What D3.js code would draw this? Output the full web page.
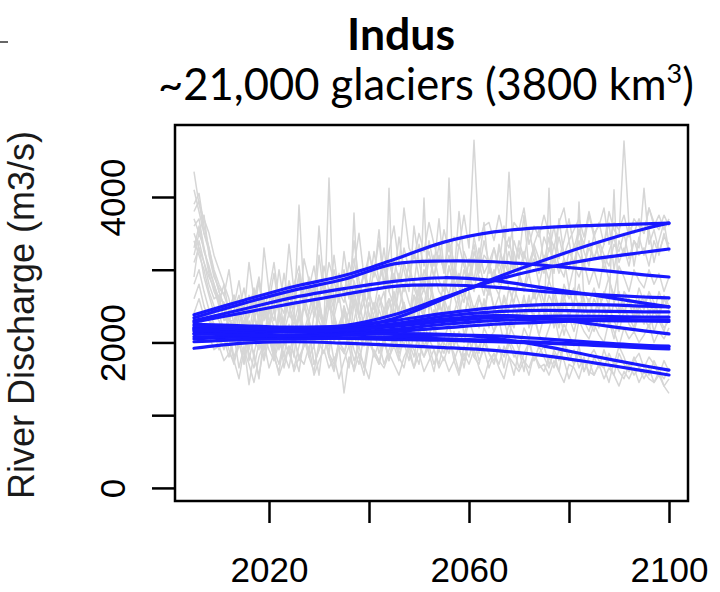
<!DOCTYPE html>
<html><head><meta charset="utf-8">
<script src="https://cdn.jsdelivr.net/npm/d3@7"></script>
<style>body{margin:0;background:#fff} svg{display:block}</style>
</head><body>
<svg id="chart" width="720" height="592"></svg>
<script>
const chartTitle = "Indus";
const subtitleMain = "~21,000 glaciers (3800 km";
const subtitleSup = "3";
const subtitleEnd = ")";
const yAxisTitle = "River Discharge (m3/s)";

const firstYear = 2005, lastYear = 2100;
const annualYears = d3.range(firstYear, lastYear + 1);

// Individual model runs (grey), annual values 2005-2100, m3/s
const grayRuns = [
[4350,3900,3700,3500,3200,3000,2800,2600,2250,2500,
 2150,2650,2400,2850,2300,2550,2950,2450,2700,2350,
 2800,3050,2550,2900,2450,3200,2650,3100,2850,2550,
 3250,2750,3050,3500,2900,3200,2950,3400,2800,3250,
 3600,3050,3850,3300,3150,3500,3250,3650,3350,3100,
 3550,3250,3450,3300,3750,3300,4780,3400,3600,3650,
 3400,3750,3450,3300,3650,3550,3850,3350,3600,3450,
 3750,3500,3300,3650,3850,3400,3550,3700,3450,3800,
 3500,3600,3850,3350,3650,3550,3750,3450,3700,3600,
 3500,3850,3650,3550,3750,3600],
[3900,4050,3600,3300,2950,2700,2500,2300,2250,2000,
 1750,2300,2050,1900,2450,2150,1850,2350,2000,2200,
 1800,2450,2100,2300,1950,2600,2200,1850,2400,2100,
 2250,1950,2550,2150,2350,2700,2050,2450,2250,2600,
 2350,2800,2500,2300,2850,2550,2750,2450,2950,2700,
 2600,3050,2750,2950,2650,3150,2850,3300,2950,3100,
 2850,3350,3000,3250,2950,3400,3150,3550,3200,3050,
 3450,3250,3600,3150,3400,3700,3300,3550,3350,3750,
 3450,3650,3350,3800,3550,3450,4770,3600,3500,3700,
 3500,3850,3600,3750,3550,3700],
[3700,3500,3750,3200,2900,2750,2650,2450,2650,2300,
 2000,2450,2750,2300,2550,2150,2700,2400,2250,2800,
 2450,2950,2500,2750,2350,2600,3050,2700,2450,2900,
 2650,3100,2800,2550,3000,2750,3250,2850,3050,2700,
 3150,2850,3300,3000,2800,3350,3050,3250,2900,3200,
 3000,3400,3100,2800,3250,3050,3350,2950,3200,3100,
 2850,3300,3050,4340,3100,2900,3250,3000,3150,2800,
 3100,2850,3200,2950,3150,2750,3050,2900,3100,2800,
 3000,2750,3150,2850,2650,3050,2900,2700,3000,2850,
 2750,3000,2800,2950,2700,2900],
[3300,3600,3250,3050,2800,2600,2550,2300,2450,2650,
 2350,2100,2550,2850,2400,2250,2700,2450,2950,2500,
 2300,3890,2650,2400,2800,2500,2250,2750,2550,2950,
 2650,2400,2850,2600,2950,2700,2450,2850,3050,2700,
 2500,2950,2700,3100,2750,2550,3000,2800,3200,2850,
 2700,3050,2800,2600,3000,2750,3150,2900,2650,3050,
 2800,2650,3000,2750,2550,2900,2700,2950,2600,2800,
 2550,2850,2650,2400,2800,2600,2750,2450,2700,2550,
 2750,2500,2650,2900,2550,2400,2700,2600,2450,2750,
 2550,2650,2400,2700,2500,2600],
[2900,3400,3100,2800,2600,2650,2300,2350,2150,2500,
 2250,1950,2400,2150,2600,2300,2000,2450,2200,2700,
 2350,2050,2500,2250,1950,2400,2200,2650,2300,2100,
 2500,2250,2700,2400,2150,2550,2350,2050,2450,2600,
 2300,2750,2450,2200,2650,2500,2350,2800,2550,2250,
 2600,2400,2850,2500,2300,2700,2450,2650,2350,2800,
 2450,2650,2350,2750,2500,2300,2600,2450,2700,2400,
 2550,2300,2750,2450,2650,2350,2550,2800,2400,2600,
 2350,2650,2450,2250,2550,2700,2400,2600,2300,2500,
 2650,2400,2550,2350,2600,2450],
[4100,3800,3500,3250,2950,2700,2500,2200,2150,1950,
 2300,1750,2100,2350,1900,2200,2450,2050,1800,2250,
 2000,2350,2100,1850,2400,2600,2150,1950,2300,2050,
 2400,2150,3780,2350,2050,2250,2550,2200,1950,4120,
 2200,2450,2150,2350,2650,2300,3985,2400,2150,2550,
 2300,2500,2200,2450,2350,2650,2250,2400,2550,2200,
 2450,2300,2600,2350,2200,2500,2350,2650,2250,2400,
 2300,4120,2450,2200,2550,2350,2150,2450,2600,2300,
 2150,2400,2250,2500,2300,2150,2450,2350,2200,2500,
 2350,2200,2450,2300,2150,2400],
[2600,2800,2500,2300,2250,2000,2050,1800,2100,1650,
 1950,1420,1850,2150,1750,2050,1800,1600,2000,1850,
 2100,1750,1950,2200,1700,1900,2150,1800,1650,2050,
 1850,2150,1900,1700,2100,1950,2200,1850,2050,1750,
 2150,1900,2250,2000,1800,2200,1950,2100,2300,1900,
 2050,2250,1950,2150,2000,2300,2100,1850,2200,2050,
 2150,2300,2000,2250,2100,1900,2200,2050,2350,2100,
 2000,2200,2400,2050,2250,2100,1950,2300,2150,2050,
 2250,2100,2000,2300,2150,1950,2200,2050,2150,2000,
 2100,2250,2000,2150,2050,2200],
[3100,3300,2900,2650,2400,2300,2100,2050,1750,1950,
 2150,1850,1650,2000,1800,2200,1900,1700,2050,1850,
 1650,1950,2200,1800,1600,2000,1850,2150,1750,1950,
 1305,1800,1650,2100,1950,2150,1800,2000,1700,1900,
 2100,1850,2000,1750,2150,1950,1800,2050,1900,1700,
 2000,1850,2150,1900,1750,2050,1800,1950,2100,1850,
 1700,1950,1800,2050,1900,1650,1850,2000,1750,1950,
 1800,1650,1900,1750,2000,1850,1700,1950,1600,1800,
 1900,1750,1650,1850,1700,1950,1800,1600,1750,1850,
 1650,1800,1700,1550,1750,1600],
[2400,2600,2350,2300,2150,1900,2150,1900,1700,2050,
 1850,2100,1800,1550,1950,2150,1750,2000,1850,1650,
 2050,1800,1950,2200,1700,1900,2100,1800,1600,1950,
 1850,2050,1750,1950,1650,2100,1850,1700,2000,1800,
 1950,1750,2150,1850,1650,2000,1800,1950,1700,1900,
 1750,2000,1850,1600,1950,1800,2050,1750,1900,1650,
 1850,1700,1950,1800,1550,1900,1750,1650,1850,1700,
 1600,1800,1650,1900,1750,1500,1700,1850,1600,1750,
 1550,1700,1650,1450,1750,1600,1500,1700,1550,1650,
 1500,1650,1450,1600,1400,1300],
[2200,2400,2100,2100,1900,1950,1750,1850,1750,1500,
 1900,1700,1450,1800,2000,1650,1850,1550,1750,1950,
 1600,1800,1700,1950,1550,1750,1900,1650,1800,1500,
 1750,1950,1600,1850,1700,1500,1900,1750,1650,1850,
 1700,1550,1800,1950,1650,1850,1600,1750,1900,1650,
 1800,1600,1750,1550,1850,1700,1900,1650,1500,1750,
 1850,1650,1500,1800,1700,1600,1750,1550,1850,1650,
 1700,1550,1750,1600,1450,1700,1650,1500,1750,1600,
 1550,1700,1500,1650,1550,1400,1600,1500,1650,1450,
 1600,1500,1450,1550,1400,1500],
[3500,3300,3100,2900,2750,2500,2450,2300,2300,2550,
 2100,2400,2650,2250,2050,2500,2300,2700,2150,2400,
 2250,2550,2150,2400,2800,2300,2100,2500,2350,2650,
 2200,2450,2700,2350,2550,2150,2400,2650,2300,2500,
 2700,2350,2550,2250,2450,2800,2400,2600,2300,2550,
 2350,4260,2650,2400,2700,2500,2300,2600,2450,2750,
 2500,2300,2650,2450,2750,2550,2350,2600,2450,2700,
 2400,2650,2500,2300,2600,2750,2450,3930,2550,2350,
 2600,2450,2700,2500,4100,2400,2650,2550,2350,2600,
 2450,2700,2550,2400,2650,2500],
[3600,3700,3300,3000,2800,2550,2350,2250,2000,2400,
 2150,1900,2350,2100,2500,2200,1950,2400,2150,2050,
 2400,2150,2550,2300,2050,2450,2250,4260,2350,2150,
 2500,2250,2600,2350,2700,2400,2200,2650,2450,2300,
 2650,2450,2800,2550,2350,2750,2500,2900,2600,2450,
 2850,2650,3000,2750,2550,2950,2700,3100,2800,2650,
 3000,2800,3150,2900,3250,2950,2750,3100,3300,2950,
 3200,3000,3350,3050,2900,3250,3100,3400,3050,3300,
 3150,3400,3200,3050,3350,3250,3500,3150,3400,3300,
 4120,3350,3550,3250,3450,3350],
[3800,3950,3500,3300,3000,2800,2650,3000,2500,2850,
 2400,3100,2600,2300,3300,2700,2450,3000,2550,3350,
 2700,2400,3150,2850,2500,3600,2750,2450,3200,2650,
 3000,2600,3400,2850,2550,3250,2900,3550,2750,3100,
 2850,3450,3000,2700,3600,3100,2800,3400,3050,3700,
 3000,3350,2900,3800,3150,2850,3450,3100,3650,2950,
 3300,3050,3600,2900,3400,3150,3750,3000,3350,3550,
 3100,3450,2950,3700,3200,3400,3000,3550,3250,3050,
 3500,3150,3350,3650,3000,3400,3200,3600,3050,3450,
 3200,3550,3100,3400,3650,3250],
[3400,3200,3000,2700,2500,2400,2150,2350,2050,2250,
 2500,2100,2300,2600,2000,2450,2200,1900,2350,2550,
 2150,2400,1950,2300,2550,2100,2350,2650,2000,2250,
 2450,2050,2300,2600,2200,2400,2050,2500,2700,2250,
 2000,2350,2550,2150,2400,2700,2250,2050,2450,2300,
 2550,2200,2400,2650,2100,2350,2500,2200,2600,2350,
 2150,2450,2300,2050,2500,2350,2650,2200,2400,2100,
 2350,2550,2200,2450,2100,2400,2250,2550,2300,2150,
 2400,2200,2500,2300,2050,2350,2550,2250,2150,2400,
 2250,2450,2150,2350,2200,2300],
[2800,3000,2700,2450,2250,2100,1900,2150,1800,2000,
 1700,2050,1850,1500,2100,1900,1750,2200,1650,1950,
 1850,1600,2050,1800,1950,1550,2100,1850,1700,2000,
 1900,1650,2150,1800,1550,2000,1850,1700,2100,1750,
 2050,1800,1650,2000,1900,1700,2150,1850,1600,2000,
 1850,2100,1750,1950,1650,2050,1800,1700,2000,1850,
 1750,1950,1650,2000,1800,1900,1600,2050,1750,1850,
 1950,1700,1850,1600,2000,1750,1900,1650,1800,1550,
 1800,1650,1900,1700,1550,1850,1700,1600,1800,1650,
 1700,1550,1750,1600,1500,1650],
[3200,3500,3300,2950,2700,2550,2800,2400,2650,2450,
 2750,2350,2600,2900,2450,2700,3100,2550,2400,2850,
 2600,2900,2450,2750,3050,2600,2850,2500,3000,2700,
 2550,2850,3150,2700,2950,2600,3000,2800,3300,2750,
 2950,2700,3100,2850,3250,2900,2700,3150,2900,3350,
 2950,3200,2850,3350,3050,2800,3250,3000,3400,3100,
 3300,2950,3200,3450,3000,3300,3100,2900,3350,3150,
 2950,3300,3100,3450,3150,3000,3350,3200,3050,3400,
 3150,3350,3000,3250,3450,3100,3300,3050,3400,3200,
 3300,3050,3400,3200,3500,3250]
];

// Smoothed projections (blue)
const blueYears = [2005, 2015, 2025, 2035, 2045, 2055, 2065, 2075, 2085, 2095, 2100];
const blueRuns = [
[2380, 2580, 2770, 2920, 3140, 3380, 3520, 3580, 3610, 3630, 3640],
[2340, 2540, 2720, 2870, 3080, 3120, 3110, 3060, 3000, 2930, 2900],
[2300, 2460, 2620, 2740, 2840, 2890, 2850, 2750, 2650, 2540, 2490],
[2280, 2410, 2540, 2660, 2770, 2790, 2760, 2700, 2660, 2625, 2612],
[2200, 2190, 2170, 2200, 2330, 2600, 2880, 3130, 3360, 3560, 3640],
[2150, 2170, 2180, 2230, 2380, 2620, 2850, 3020, 3150, 3240, 3285],
[2250, 2230, 2210, 2230, 2300, 2400, 2480, 2520, 2520, 2500, 2490],
[2200, 2180, 2170, 2190, 2260, 2360, 2420, 2440, 2430, 2420, 2420],
[2120, 2140, 2150, 2170, 2220, 2290, 2340, 2360, 2360, 2350, 2350],
[2180, 2160, 2140, 2140, 2180, 2250, 2300, 2320, 2320, 2310, 2310],
[2050, 2080, 2100, 2120, 2150, 2200, 2250, 2280, 2300, 2295, 2290],
[2230, 2200, 2160, 2170, 2230, 2320, 2370, 2340, 2250, 2160, 2117],
[2080, 2070, 2060, 2060, 2060, 2050, 2030, 2000, 1970, 1950, 1940],
[2170, 2130, 2090, 2060, 2040, 2030, 2010, 1990, 1960, 1925, 1910],
[2120, 2100, 2090, 2100, 2120, 2110, 2060, 1950, 1810, 1680, 1620],
[1920, 1990, 2010, 1990, 1960, 1930, 1890, 1820, 1720, 1610, 1553],
[2010, 2040, 2050, 2060, 2080, 2100, 2090, 2050, 2000, 1960, 1950]
];

const yTicks = [0, 1000, 2000, 3000, 4000];
const yTickLabels = ["0", "", "2000", "", "4000"];
const xTicks = [2020, 2040, 2060, 2080, 2100];
const xTickLabels = ["2020", "", "2060", "", "2100"];

const svg = d3.select("#chart");
const x = d3.scaleLinear().domain([2001.2, 2103.8]).range([175, 688]);
const y = d3.scaleLinear().domain([-180, 4990]).range([501, 125]);
const axisFont = "'Liberation Sans', Arial, Helvetica, sans-serif";
const titleFont = "Lato, 'Open Sans', sans-serif";

// fragment at top-left
svg.append("line").attr("x1", 0).attr("x2", 8).attr("y1", 42).attr("y2", 42)
  .attr("stroke", "#333").attr("stroke-width", 1.5);

const plot = svg.append("g");
const grayLine = d3.line().x((d, i) => x(annualYears[i])).y(d => y(d));
plot.selectAll("path.gray").data(grayRuns).join("path")
  .attr("class", "gray").attr("fill", "none").attr("stroke", "#d6d6d6")
  .attr("stroke-width", 1.5).attr("stroke-linejoin", "round").attr("d", grayLine);

const blueLine = d3.line().x((d, i) => x(blueYears[i])).y(d => y(d))
  .curve(d3.curveCatmullRom.alpha(0.5));
plot.selectAll("path.blue").data(blueRuns).join("path")
  .attr("class", "blue").attr("fill", "none").attr("stroke", "#1818ff")
  .attr("stroke-width", 3.2).attr("stroke-linecap", "round").attr("d", blueLine);

// box
svg.append("rect")
  .attr("x", x.range()[0]).attr("y", y.range()[1])
  .attr("width", x.range()[1] - x.range()[0]).attr("height", y.range()[0] - y.range()[1])
  .attr("fill", "none").attr("stroke", "#000").attr("stroke-width", 2.5);

// y axis
svg.append("g").attr("transform", `translate(${x.range()[0]},0)`)
  .call(d3.axisLeft(y).tickValues(yTicks).tickSize(23).tickFormat((d, i) => yTickLabels[i]))
  .call(g => g.select(".domain").remove())
  .call(g => g.selectAll(".tick line").attr("stroke", "#000").attr("stroke-width", 2.5))
  .call(g => g.selectAll(".tick text")
    .attr("transform", "rotate(-90)").attr("x", 0).attr("y", -50).attr("dy", 0)
    .attr("text-anchor", "middle").attr("font-size", 35)
    .attr("font-family", axisFont).attr("fill", "#000"));

// x axis
svg.append("g").attr("transform", `translate(0,${y.range()[0]})`)
  .call(d3.axisBottom(x).tickValues(xTicks).tickSize(22).tickFormat((d, i) => xTickLabels[i]))
  .call(g => g.select(".domain").remove())
  .call(g => g.selectAll(".tick line").attr("stroke", "#000").attr("stroke-width", 2.5))
  .call(g => g.selectAll(".tick text")
    .attr("y", 81).attr("dy", 0).attr("font-size", 35)
    .attr("font-family", axisFont).attr("fill", "#000"));

// y axis title
svg.append("text")
  .attr("transform", "translate(34,315) rotate(-90)")
  .attr("text-anchor", "middle").attr("font-size", 36)
  .attr("font-family", axisFont).attr("fill", "#1a1a1a")
  .text(yAxisTitle);

function fitWidth(sel, target) {
  const w = sel.node().getComputedTextLength();
  const fs = +sel.attr("font-size");
  if (w > 0) sel.attr("font-size", fs * target / w);
}

const t = svg.append("text").attr("x", 401).attr("y", 50)
  .attr("text-anchor", "middle").attr("font-family", titleFont)
  .attr("font-weight", "bold").attr("font-size", 44).attr("fill", "#000")
  .text(chartTitle);
fitWidth(t, 108);

const st = svg.append("text").attr("x", 426).attr("y", 100)
  .attr("text-anchor", "middle").attr("font-family", titleFont)
  .attr("font-size", 44).attr("fill", "#000");
st.append("tspan").text(subtitleMain);
st.append("tspan").style("font-size", "62%").attr("dy", "-0.62em").text(subtitleSup);
st.append("tspan").attr("dy", "0.385em").text(subtitleEnd);
fitWidth(st, 536);
</script>
</body></html>
